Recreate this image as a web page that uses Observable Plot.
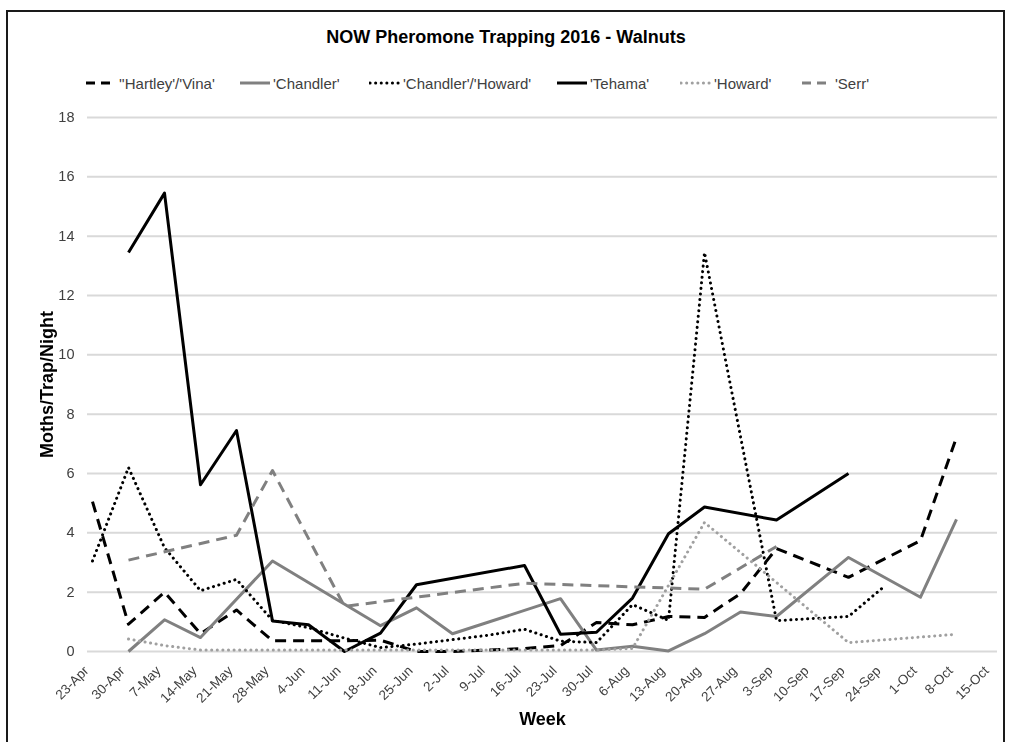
<!DOCTYPE html>
<html>
<head>
<meta charset="utf-8">
<script src="https://cdn.jsdelivr.net/npm/d3@7"></script>
<script src="https://cdn.jsdelivr.net/npm/@observablehq/plot@0.6"></script>
<style>
  body { margin: 0; background: #fff; font-family: "Liberation Sans", Arial, sans-serif; }
  #frame { position: absolute; left: 6px; top: 10px; width: 999px; height: 745px; border: 2px solid #1a1a1a; box-sizing: border-box; }
  #title { position: absolute; left: 0; top: 27px; width: 1012px; text-align: center; font-weight: bold; font-size: 18px; color: #000; }
  #legend { position: absolute; left: 0; top: 74px; width: 1012px; height: 20px; }
  .item { position: absolute; top: 0; display: flex; align-items: center; font-size: 15px; color: #404040; white-space: nowrap; }
  .item svg { margin-right: 2px; }
  #chart { position: absolute; left: 0; top: 100px; filter: grayscale(1); }
  #chart svg [aria-label="y-axis label"] text, #chart svg [aria-label="x-axis label"] text { font-weight: bold; fill: #000; font-size: 18px !important; }
</style>
</head>
<body>
<div id="frame"></div>
<div id="title">NOW Pheromone Trapping 2016 - Walnuts</div>
<div id="legend"></div>
<div id="chart"></div>
<script>
const weeks = ["23-Apr","30-Apr","7-May","14-May","21-May","28-May","4-Jun","11-Jun","18-Jun","25-Jun","2-Jul","9-Jul","16-Jul","23-Jul","30-Jul","6-Aug","13-Aug","20-Aug","27-Aug","3-Sep","10-Sep","17-Sep","24-Sep","1-Oct","8-Oct","15-Oct"];

const hartleyVina   = [5.05,0.92,2.0,0.6,1.4,0.36,0.36,0.36,0.38,0.0,0.0,0.05,0.1,0.2,0.98,0.9,1.18,1.15,1.95,3.47,null,2.5,null,3.74,7.22,null];
const chandler      = [null,0.0,1.07,0.47,null,3.05,null,null,0.87,1.47,0.6,null,null,1.78,0.05,0.18,0.02,0.6,1.33,1.18,null,3.17,null,1.83,4.45,null];
const chandlerHoward= [3.05,6.2,3.5,2.05,2.43,1.05,0.8,0.45,0.13,0.25,0.4,0.55,0.75,0.35,0.3,1.58,1.05,13.45,null,1.04,null,1.18,2.2,null,null,null];
const tehama        = [null,13.45,15.45,5.62,7.45,1.03,0.9,0.0,0.62,2.25,null,null,2.9,0.58,0.65,1.8,3.97,4.87,null,4.43,null,6.0,null,null,null,null];
const howard        = [null,0.42,0.2,0.05,0.05,0.05,0.05,0.05,0.05,0.05,0.05,0.05,0.05,0.05,0.05,0.1,null,4.35,null,null,null,0.3,null,null,0.58,null];
const serr          = [null,3.08,null,null,3.92,6.1,null,1.52,null,null,null,null,2.3,null,null,null,null,2.1,null,3.54,null,null,null,null,null,null];

const seriesNames = ["''Hartley'/'Vina'","'Chandler'","'Chandler'/'Howard'","'Tehama'","'Howard'","'Serr'"];
const seriesValues = [hartleyVina, chandler, chandlerHoward, tehama, howard, serr];
const yTicks = [0,2,4,6,8,10,12,14,16,18];

const styles = [
  {stroke:"#000", strokeWidth:3, strokeDasharray:"11,7", strokeLinecap:"butt"},
  {stroke:"#808080", strokeWidth:3, strokeDasharray:null, strokeLinecap:"butt"},
  {stroke:"#000", strokeWidth:3, strokeDasharray:"0.1,5.5", strokeLinecap:"round"},
  {stroke:"#000", strokeWidth:3, strokeDasharray:null, strokeLinecap:"butt"},
  {stroke:"#a0a0a0", strokeWidth:3, strokeDasharray:"0.1,5.5", strokeLinecap:"round"},
  {stroke:"#808080", strokeWidth:3, strokeDasharray:"11,7", strokeLinecap:"butt"}
];

const lineMarks = seriesValues.map((vals, k) => {
  const data = weeks.map((w, i) => ({week: w, value: vals[i]})).filter(d => d.value != null);
  const s = styles[k];
  const opts = {x: "week", y: "value", stroke: s.stroke, strokeWidth: s.strokeWidth, strokeLinecap: s.strokeLinecap, strokeLinejoin: "round"};
  if (s.strokeDasharray) opts.strokeDasharray = s.strokeDasharray;
  return Plot.lineY(data, opts);
});

const chart = Plot.plot({
  width: 1012,
  height: 640,
  marginTop: 17,
  marginBottom: 89,
  marginLeft: 87,
  marginRight: 15,
  style: {fontFamily: "'Liberation Sans', Arial, sans-serif", fontSize: "12px", background: "transparent", overflow: "visible"},
  x: {type: "point", domain: weeks, padding: 0},
  y: {domain: [0, 18]},
  marks: [
    Plot.gridY(yTicks, {stroke: "#d9d9d9", strokeOpacity: 1, strokeWidth: 2}),
    Plot.axisY(yTicks, {tickSize: 0, tickPadding: 13, fontSize: 14.5, color: "#404040", label: "Moths/Trap/Night", labelAnchor: "center", labelArrow: "none", labelOffset: 47}),
    Plot.axisX({tickRotate: -45, tickSize: 0, tickPadding: 17, dx: -6, fontSize: 13.5, color: "#404040", label: "Week", labelAnchor: "center", labelArrow: "none", labelOffset: 73}),
    ...lineMarks
  ]
});
document.getElementById("chart").appendChild(chart);

// legend
const legendPos = [85, 239, 369, 556, 680, 801];
const legend = document.getElementById("legend");
seriesNames.forEach((name, k) => {
  const s = styles[k];
  const div = document.createElement("div");
  div.className = "item";
  div.style.left = legendPos[k] + "px";
  const w = 32;
  div.innerHTML = `<svg width="${w}" height="18"><line x1="1" x2="${w-1}" y1="9" y2="9" stroke="${s.stroke}" stroke-width="3" ${s.strokeDasharray ? `stroke-dasharray="${k===0||k===5 ? '9,6' : s.strokeDasharray}"` : ""} stroke-linecap="${s.strokeLinecap}"/></svg><span>${name}</span>`;
  legend.appendChild(div);
});
</script>
</body>
</html>
